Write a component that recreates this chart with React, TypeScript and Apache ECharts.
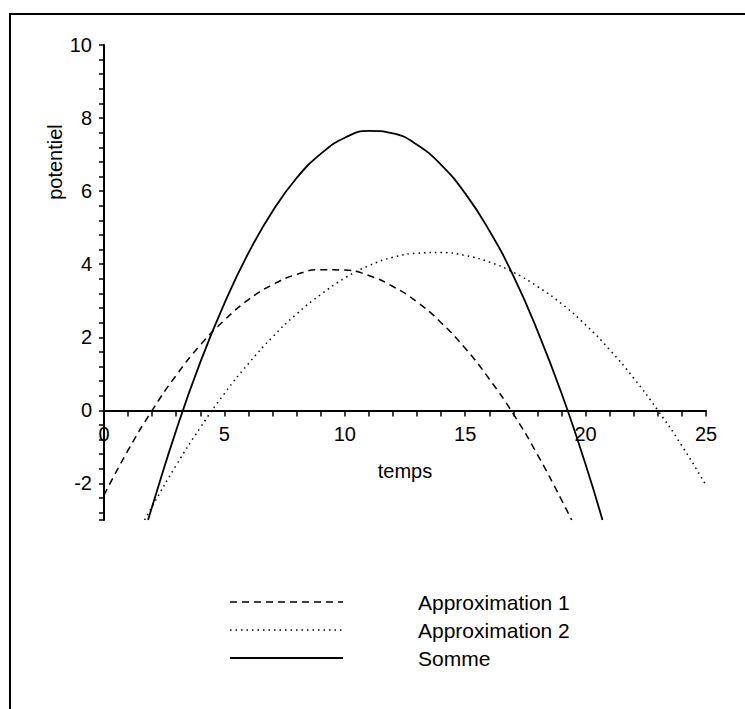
import React, { useEffect, useRef } from "react";
import * as echarts from "echarts";

// ---- data ----
const approx1X = [0, 1, 2, 3, 4, 5, 6, 7, 8, 9, 10, 11, 12, 13, 14, 15, 16, 17, 18, 19, 19.42];
const approx1Y = [-2.32, -1.09, 0.0, 0.96, 1.79, 2.47, 3.03, 3.44, 3.72, 3.85, 3.84, 3.69, 3.39, 2.97, 2.4, 1.7, 0.86, -0.1, -1.21, -2.45, -3];

const approx2X = [1.69, 2, 3, 4, 5, 6, 7, 8, 9, 10, 11, 12, 13, 14, 15, 16, 17, 18, 19, 20, 21, 22, 23, 24, 25];
const approx2Y = [-3, -2.63, -1.5, -0.47, 0.46, 1.28, 2.01, 2.64, 3.17, 3.62, 3.96, 4.19, 4.3, 4.32, 4.24, 4.06, 3.78, 3.39, 2.92, 2.34, 1.66, 0.88, 0.0, -0.97, -2.05];

const sommeX = [1.83, 2, 3, 4, 5, 6, 7, 8, 9, 10, 11, 12, 13, 14, 15, 16, 17, 18, 19, 20, 20.7];
const sommeY = [-3, -2.63, -0.54, 1.32, 2.93, 4.31, 5.45, 6.36, 7.02, 7.46, 7.65, 7.58, 7.27, 6.72, 5.94, 4.92, 3.68, 2.18, 0.47, -1.48, -3];

const seriesNames = ["Approximation 1", "Approximation 2", "Somme"];
const xLabelValues = [0, 5, 10, 15, 20, 25];
const xTickValues = [0, 1, 2, 3, 4, 5, 6, 7, 8, 9, 10, 11, 12, 13, 14, 15, 16, 17, 18, 19, 20, 21, 22, 23, 24, 25];
const yLabelValues = [-2, 0, 2, 4, 6, 8, 10];
const yTickValues = [-3, -2.8, -2.4, -2, -1.6, -1.2, -0.8, -0.4, 0, 0.4, 0.8, 1.2, 1.6, 2, 2.4, 2.8, 3.2, 3.6, 4, 4.4, 4.8, 5.2, 5.6, 6, 6.4, 6.8, 7.2, 7.6, 8, 8.4, 8.8, 9.2, 9.6, 10];
const xAxisName = "temps";
const yAxisName = "potentiel";

const FONT = "'Liberation Sans', Arial, sans-serif";

const pairs = (xs: number[], ys: number[]) => xs.map((x, i) => [x, ys[i]]);

const lineTypes: any[] = [[7, 5], [1.5, 4], "solid"];
const lineWidths = [1.5, 1.5, 1.8];

const GRID_TOP = 45;
const GRID_BOTTOM = 189;
const CHART_H = 709;
const Y_MIN = -3;
const Y_MAX = 10;

export default function App() {
  const ref = useRef<HTMLDivElement>(null);

  useEffect(() => {
    document.body.style.margin = "0";
    if (!ref.current) return;
    const chart = echarts.init(ref.current, null, { renderer: "svg" });

    const datasets = [
      pairs(approx1X, approx1Y),
      pairs(approx2X, approx2Y),
      pairs(sommeX, sommeY),
    ];

    // move the x axis (line, ticks, labels, name) up to y = 0
    const plotH = CHART_H - GRID_TOP - GRID_BOTTOM;
    const zeroOffset = -(plotH * (0 - Y_MIN)) / (Y_MAX - Y_MIN);

    const legendY = [602, 630, 658];
    const legendGraphics: any[] = [];
    seriesNames.forEach((name, i) => {
      legendGraphics.push({
        type: "line",
        shape: { x1: 230, y1: legendY[i], x2: 343, y2: legendY[i] },
        style: { stroke: "#000", lineWidth: lineWidths[i], lineDash: Array.isArray(lineTypes[i]) ? lineTypes[i] : null },
      });
      legendGraphics.push({
        type: "text",
        x: 418,
        y: legendY[i],
        style: { text: name, fill: "#000", font: `21px ${FONT}`, textAlign: "left", textVerticalAlign: "middle" },
      });
    });

    chart.setOption({
      animation: false,
      backgroundColor: "#fff",
      grid: { left: 104, right: 39, top: GRID_TOP, bottom: GRID_BOTTOM },
      xAxis: {
        type: "value",
        min: 0,
        max: 25,
        position: "bottom",
        offset: zeroOffset,
        name: xAxisName,
        nameLocation: "middle",
        nameGap: 51,
        nameTextStyle: { fontSize: 20, color: "#000", fontFamily: FONT },
        axisLine: { onZero: false, lineStyle: { color: "#000", width: 2 } },
        axisTick: { show: true, length: 6, customValues: xTickValues, lineStyle: { color: "#000", width: 1.5 } },
        axisLabel: { customValues: xLabelValues, fontSize: 20, color: "#000", fontFamily: FONT, margin: 14 },
        splitLine: { show: false },
      },
      yAxis: {
        type: "value",
        min: Y_MIN,
        max: Y_MAX,
        axisLine: { show: true, lineStyle: { color: "#000", width: 2 } },
        axisTick: { show: true, length: 5, customValues: yTickValues, lineStyle: { color: "#000", width: 1.5 } },
        axisLabel: { customValues: yLabelValues, fontSize: 20, color: "#000", fontFamily: FONT, margin: 12 },
        splitLine: { show: false },
      },
      graphic: [
        {
          type: "rect",
          shape: { x: 10, y: 14, width: 900, height: 900 },
          style: { fill: "none", stroke: "#000", lineWidth: 2 },
          z: 10,
        },
        {
          type: "text",
          x: 55,
          y: 162,
          rotation: Math.PI / 2,
          style: { text: yAxisName, fill: "#000", font: `20px ${FONT}`, textAlign: "center", textVerticalAlign: "middle" },
        },
        ...legendGraphics,
      ],
      series: seriesNames.map((name, i) => ({
        name,
        type: "line",
        data: datasets[i],
        showSymbol: false,
        smooth: true,
        clip: true,
        lineStyle: { color: "#000", width: lineWidths[i], type: lineTypes[i] },
        itemStyle: { color: "#000" },
      })),
    });

    return () => chart.dispose();
  }, []);

  return <div ref={ref} style={{ width: 745, height: 709 }} />;
}
